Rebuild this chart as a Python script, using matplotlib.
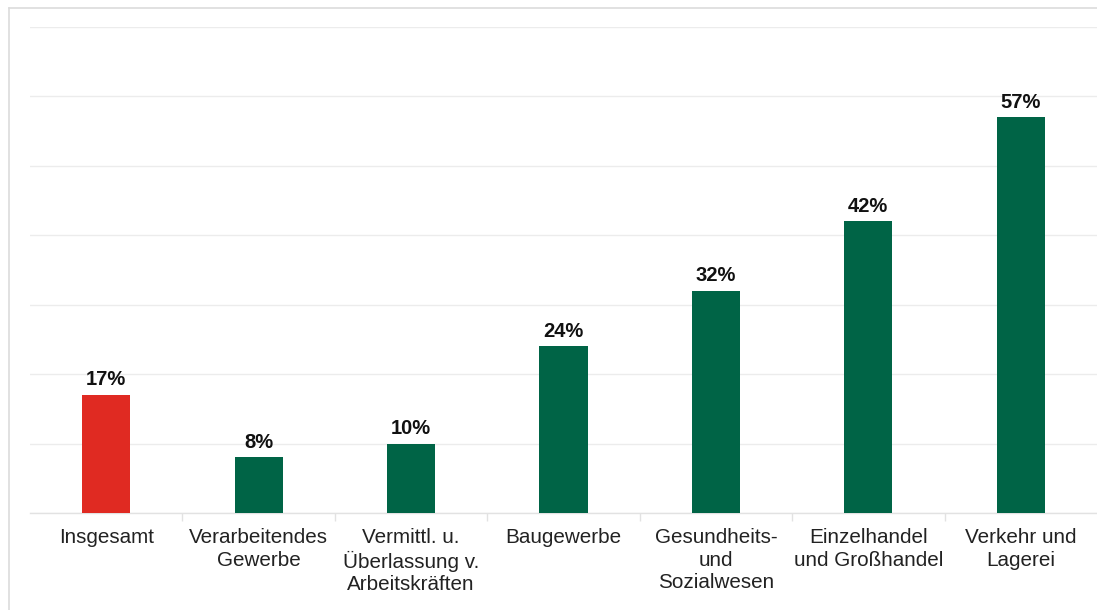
import matplotlib
matplotlib.use("Agg")
import matplotlib.pyplot as plt
from matplotlib.lines import Line2D

plt.rcParams['font.family'] = ['Liberation Sans', 'DejaVu Sans']

categories = [
    "Insgesamt",
    "Verarbeitendes\nGewerbe",
    "Vermittl. u.\nÜberlassung v.\nArbeitskräften",
    "Baugewerbe",
    "Gesundheits-\nund\nSozialwesen",
    "Einzelhandel\nund Großhandel",
    "Verkehr und\nLagerei",
]
values = [17, 8, 10, 24, 32, 42, 57]
colors = ["#e02a22", "#006446", "#006446", "#006446", "#006446", "#006446", "#006446"]

W, H = 1097, 610
fig = plt.figure(figsize=(W / 100, H / 100), dpi=100)
fig.patch.set_facecolor("white")

# light frame on the left and top edges
fig.add_artist(Line2D([9 / W, 9 / W], [0, 1 - 8 / H], transform=fig.transFigure,
                      color="#dcdcdc", lw=1.2))
fig.add_artist(Line2D([9 / W, 1], [1 - 8 / H, 1 - 8 / H], transform=fig.transFigure,
                      color="#dcdcdc", lw=1.2))

ax = fig.add_axes([30 / W, 1 - 513 / H, (1097 - 30) / W, (513 - 27) / H])
x = list(range(len(categories)))
ax.bar(x, values, width=0.315, color=colors, zorder=3)
ax.set_xlim(-0.5, len(categories) - 0.5)
ax.set_ylim(0, 70)

ax.set_yticks(range(0, 71, 10))
ax.yaxis.grid(True, color="#ececec", lw=1, zorder=0)
ax.tick_params(axis="y", left=False, labelleft=False)

for s in ["top", "right", "left"]:
    ax.spines[s].set_visible(False)
ax.spines["bottom"].set_color("#e2e2e2")
ax.spines["bottom"].set_linewidth(1)

# category separators as minor ticks, labels centred on major positions
ax.set_xticks(x)
ax.set_xticklabels(categories, fontsize=14.9, color="#222222", linespacing=1.22)
ax.tick_params(axis="x", which="major", length=0, pad=11)
ax.set_xticks([i + 0.5 for i in x[:-1]], minor=True)
ax.tick_params(axis="x", which="minor", length=6, color="#e2e2e2", width=1)

for xi, v in zip(x, values):
    ax.annotate(f"{v}%", (xi, v), xytext=(0, 4), textcoords="offset points",
                ha="center", va="bottom", fontsize=14.5, fontweight="bold",
                color="#111111", zorder=4)

fig.savefig("out.png", dpi=100, facecolor="white")
